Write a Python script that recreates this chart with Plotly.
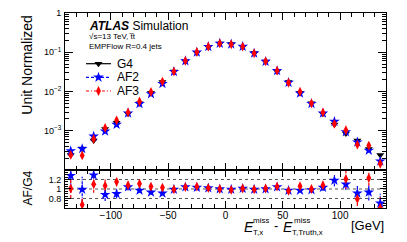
import plotly.graph_objects as go

# ---------------- data ----------------
bin_centers = [-135, -125, -115, -105, -95, -85, -75, -65, -55, -45, -35, -25, -15, -5,
               5, 15, 25, 35, 45, 55, 65, 75, 85, 95, 105, 115, 125, 135]

g4 = [2.4e-4, 3.5e-4, 5.6e-4, 1.1e-3, 1.6e-3, 2.7e-3, 5.0e-3, 9.3e-3, 1.74e-2, 3.24e-2,
      5.8e-2, 9.66e-2, 1.36e-1, 1.68e-1, 1.62e-1, 1.38e-1, 9.5e-2, 5.8e-2, 3.24e-2, 1.74e-2,
      9.3e-3, 5.0e-3, 2.7e-3, 1.45e-3, 8.5e-4, 5.6e-4, 3.4e-4, 2.4e-4]

af2 = [3.07e-4, 3.47e-4, 7.22e-4, 9.68e-4, 1.44e-3, 2.81e-3, 4.85e-3, 8.65e-3, 1.583e-2, 3.21e-2,
       6.03e-2, 9.95e-2, 1.387e-1, 1.68e-1, 1.604e-1, 1.394e-1, 9.41e-2, 5.8e-2, 3.37e-2, 1.688e-2,
       9.02e-3, 4.9e-3, 2.78e-3, 1.71e-3, 9.35e-4, 5.1e-4, 3.16e-4, 1.68e-4]

af3 = [2.42e-4, 2.35e-4, 6.16e-4, 1.18e-3, 1.84e-3, 2.92e-3, 5.55e-3, 9.77e-3, 1.792e-2, 3.21e-2,
       6.03e-2, 1.014e-1, 1.387e-1, 1.68e-1, 1.588e-1, 1.394e-1, 9.41e-2, 5.86e-2, 3.4e-2, 1.67e-2,
       9.86e-3, 5.0e-3, 2.92e-3, 1.5e-3, 1.03e-3, 4.42e-4, 4.18e-4, 1.44e-4]

af2_ratio = [1.28, 0.99, 1.29, 0.88, 0.90, 1.04, 0.97, 0.93, 0.91, 0.99, 1.04, 1.03, 1.02, 1.00,
             0.99, 1.01, 0.99, 1.00, 1.04, 0.97, 0.97, 0.98, 1.03, 1.18, 1.10, 0.91, 0.93, 0.70]
af3_ratio = [1.01, 0.67, 1.10, 1.07, 1.15, 1.08, 1.11, 1.05, 1.03, 0.99, 1.04, 1.05, 1.02, 1.00,
             0.98, 1.01, 0.99, 1.01, 1.05, 0.96, 1.06, 1.00, 1.08, None, 1.21, 0.79, 1.23, 0.60]
af2_ratio_err = [0.35, 0.27, 0.20, 0.13, 0.10, 0.07, 0.05, 0.04, 0.03, 0.02, 0.015, 0.012, 0.01, 0.01,
                 0.01, 0.01, 0.012, 0.015, 0.02, 0.03, 0.04, 0.05, 0.07, 0.12, 0.12, 0.16, 0.17, 0.20]
af3_ratio_err = [0.20, 0.15, 0.18, 0.13, 0.09, 0.07, 0.05, 0.04, 0.03, 0.02, 0.015, 0.012, 0.01, 0.01,
                 0.01, 0.01, 0.012, 0.015, 0.02, 0.03, 0.04, 0.05, 0.07, 0.10, 0.20, 0.15, 0.16, 0.25]

series_names = ["G4", "AF2", "AF3"]
log_tick_vals = [1e-3, 1e-2, 1e-1, 1]
log_tick_text = ["10<sup>−3</sup>", "10<sup>−2</sup>", "10<sup>−1</sup>", "1"]
ratio_tick_vals = [0.8, 1.0, 1.2]
ratio_tick_text = ["0.8", "1", "1.2"]

# ---------------- styling ----------------
W, H = 407, 242
L, R, T, B = 65, 21, 8, 34
FONT = "Liberation Sans, Arial, sans-serif"
BLUE = "#0000ff"
RED = "#ff0000"
RATIO_FRAC = 0.195
CLEAR = "rgba(0,0,0,0)"
AF3_SYMBOL = "diamond-tall"
AF3_SIZE = 7


def px(x):
    return (x - L) / (W - L - R)


def py(y):
    return (H - B - y) / (H - T - B)


def err_segments(xs, ys, es):
    ox, oy = [], []
    for x, y, e in zip(xs, ys, es):
        if y is None:
            continue
        ox += [x, x, None]
        oy += [y - e, y + e, None]
    return ox, oy


fig = go.Figure()

# main panel points
fig.add_trace(go.Scatter(x=bin_centers, y=g4, mode="markers", xaxis="x2", yaxis="y2",
                         marker=dict(symbol="triangle-down", size=7, color="black"),
                         showlegend=False))
fig.add_trace(go.Scatter(x=bin_centers, y=af2, mode="markers", xaxis="x2", yaxis="y2",
                         marker=dict(symbol="star", size=8, color=BLUE, line=dict(width=0)),
                         showlegend=False))
fig.add_trace(go.Scatter(x=bin_centers, y=af3, mode="markers", xaxis="x2", yaxis="y2",
                         marker=dict(symbol=AF3_SYMBOL, size=AF3_SIZE, color=RED, line=dict(width=0)),
                         showlegend=False))

# ratio panel error bars (dashed)
ex, ey = err_segments(bin_centers, af2_ratio, af2_ratio_err)
fig.add_trace(go.Scatter(x=ex, y=ey, mode="lines", xaxis="x", yaxis="y",
                         line=dict(color=BLUE, width=1.2, dash="3px,1px,1px,1px"),
                         showlegend=False, hoverinfo="skip"))
ex, ey = err_segments(bin_centers, af3_ratio, af3_ratio_err)
fig.add_trace(go.Scatter(x=ex, y=ey, mode="lines", xaxis="x", yaxis="y",
                         line=dict(color=RED, width=1.2, dash="3px,2px"),
                         showlegend=False, hoverinfo="skip"))
fig.add_trace(go.Scatter(x=bin_centers, y=af2_ratio, mode="markers", xaxis="x", yaxis="y",
                         marker=dict(symbol="star", size=8, color=BLUE, line=dict(width=0)),
                         showlegend=False))
fig.add_trace(go.Scatter(x=bin_centers, y=af3_ratio, mode="markers", xaxis="x", yaxis="y",
                         marker=dict(symbol=AF3_SYMBOL, size=AF3_SIZE, color=RED, line=dict(width=0)),
                         showlegend=False))

# manual legend on an overlay axis in pixel units
leg_rows = [60, 74, 88]
leg_styles = [
    dict(color="black", dash="solid", symbol="triangle-down", size=7),
    dict(color=BLUE, dash="3px,2px", symbol="star", size=8),
    dict(color=RED, dash="3px,2px,1px,2px", symbol=AF3_SYMBOL, size=AF3_SIZE),
]
for name, yrow, st in zip(series_names, leg_rows, leg_styles):
    fig.add_trace(go.Scatter(x=[86, 111], y=[yrow, yrow], mode="lines", xaxis="x3", yaxis="y3",
                             line=dict(color=st["color"], width=1.2, dash=st["dash"]),
                             showlegend=False, hoverinfo="skip"))
    fig.add_trace(go.Scatter(x=[98.5], y=[yrow], mode="markers", xaxis="x3", yaxis="y3",
                             marker=dict(symbol=st["symbol"], size=st["size"], color=st["color"],
                                         line=dict(width=0)),
                             showlegend=False, hoverinfo="skip"))

axis_common = dict(showline=True, linecolor="black", linewidth=1, mirror="ticks",
                   ticks="inside", tickcolor="black", showgrid=False, zeroline=False)

fig.update_layout(
    width=W, height=H,
    margin=dict(l=L, r=R, t=T, b=B),
    paper_bgcolor="white", plot_bgcolor=CLEAR,
    font=dict(family=FONT, color="black"),
    showlegend=False,
    xaxis=dict(domain=[0, 1], anchor="y", range=[-140, 140], tick0=0, dtick=50, ticklen=7,
               minor=dict(ticks="inside", ticklen=4, dtick=10, tickcolor="black"),
               tickfont=dict(family=FONT, size=10, color="black"),
               ticklabelstandoff=-2, **axis_common),
    yaxis=dict(domain=[0, RATIO_FRAC], anchor="x", range=[0.6, 1.4],
               tickmode="array", tickvals=ratio_tick_vals, ticktext=ratio_tick_text, ticklen=6,
               minor=dict(ticks="inside", ticklen=3, tickmode="array",
                          tickvals=[0.65, 0.7, 0.75, 0.85, 0.9, 0.95, 1.05, 1.1, 1.15, 1.25, 1.3, 1.35],
                          tickcolor="black"),
               tickfont=dict(family=FONT, size=9, color="black"),
               ticklabelstandoff=1, **axis_common),
    xaxis2=dict(domain=[0, 1], anchor="y2", matches="x", range=[-140, 140], tick0=0, dtick=50,
                ticklen=7, showticklabels=False,
                minor=dict(ticks="inside", ticklen=4, dtick=10, tickcolor="black"),
                **axis_common),
    yaxis2=dict(domain=[RATIO_FRAC, 1], anchor="x2", type="log", range=[-4, 0],
                tickmode="array", tickvals=log_tick_vals, ticktext=log_tick_text, ticklen=8,
                minor=dict(ticks="inside", ticklen=4, tickcolor="black", tickmode="array",
                           tickvals=[k * 10 ** d for d in (-4, -3, -2, -1) for k in range(2, 10)]),
                tickfont=dict(family=FONT, size=9, color="black"),
                ticklabelstandoff=1, **axis_common),
    xaxis3=dict(domain=[0, 1], anchor="y3", range=[L, W - R], visible=False, fixedrange=True),
    yaxis3=dict(domain=[0, 1], anchor="x3", range=[H - B, T], visible=False, fixedrange=True),
)

# dotted reference lines in ratio panel
for v in ratio_tick_vals:
    fig.add_shape(type="line", xref="x domain", yref="y", x0=0, x1=1, y0=v, y1=v,
                  line=dict(color="#555555", width=1, dash="dot"), layer="below")


def ann(text, x, y, size, xanchor="left", yanchor="middle", angle=0, **kw):
    fig.add_annotation(text=text, x=px(x), y=py(y), xref="paper", yref="paper",
                       showarrow=False, xanchor=xanchor, yanchor=yanchor, textangle=angle,
                       font=dict(family=FONT, size=size, color="black"), **kw)


# ATLAS label block
ann("<b><i>ATLAS</i></b> Simulation", 87, 21, 12)
ann("√s=13 TeV, t̅t", 87, 32, 8)
ann("EMPFlow R=0.4 jets", 87, 42, 8)
for name, yrow in zip(series_names, leg_rows):
    ann(name, 115, yrow, 12, height=12)

# axis titles
ann("Unit Normalized", 27, 61, 14, xanchor="center", angle=-90)
ann("AF/G4", 27, 188, 12, xanchor="center", angle=-90)

# x-axis title assembled from pieces
ann("<i>E</i>", 242, 227, 14)
ann("miss", 251, 220, 8, height=8)
ann("T,x", 251, 233, 8, height=8)
ann("-", 272, 226, 13)
ann("<i>E</i>", 281, 227, 14)
ann("miss", 292, 220, 8, height=8)
ann("T,Truth,x", 290, 233, 8, height=8)
ann("[GeV]", 386, 226, 13, xanchor="right")

fig.write_html("out.html", post_script="document.body.style.margin='0';",
               config={"displayModeBar": False})
